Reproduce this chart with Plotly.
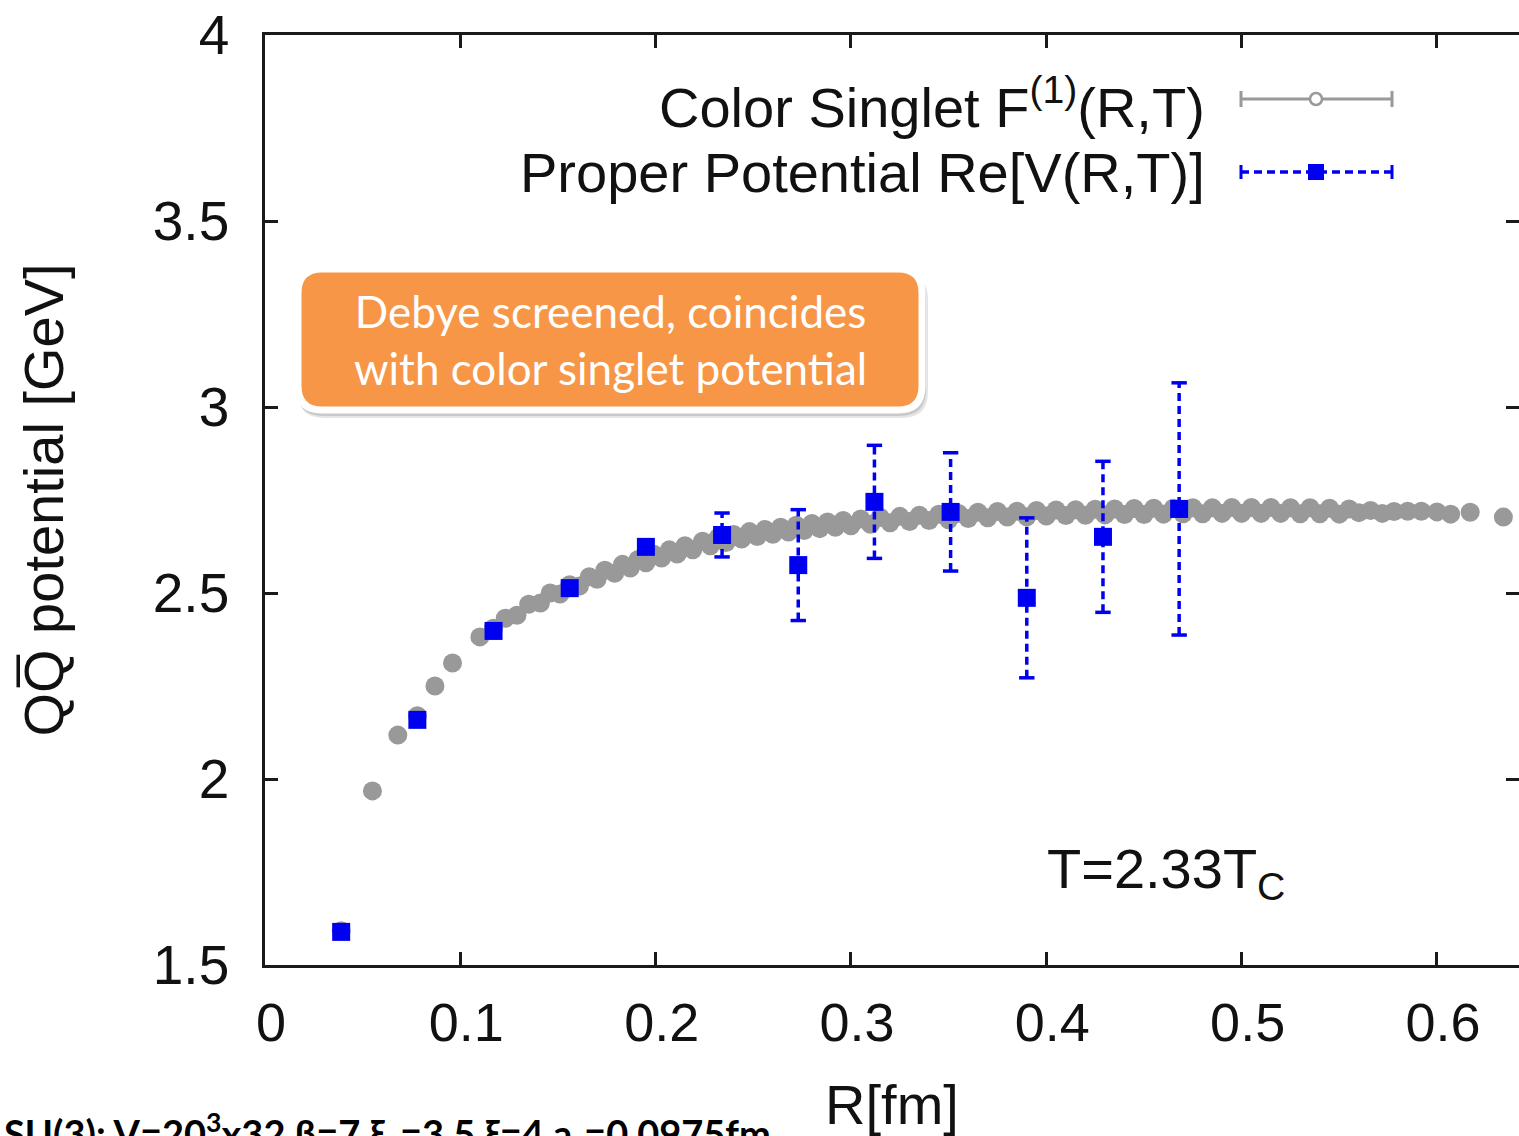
import plotly.graph_objects as go

# ---------------- data ----------------
# Color singlet free energy F^(1)(R,T)  [R in fm, value in GeV]
R_singlet = [0.039, 0.055, 0.068, 0.078, 0.087, 0.096, 0.110, 0.117,
             0.123, 0.129, 0.135, 0.141, 0.146, 0.151, 0.156, 0.161, 0.166, 0.170,
             0.174, 0.179, 0.183, 0.187, 0.191, 0.195, 0.199, 0.203, 0.207, 0.211,
             0.215, 0.219, 0.224, 0.228, 0.232, 0.236, 0.240, 0.244, 0.248, 0.252,
             0.256, 0.260, 0.264, 0.268, 0.272, 0.276, 0.280, 0.284, 0.288, 0.292,
             0.296, 0.300, 0.305, 0.310, 0.315, 0.320, 0.325, 0.330, 0.335, 0.340,
             0.345, 0.350, 0.355, 0.360, 0.365, 0.370, 0.375, 0.380, 0.385, 0.390,
             0.395, 0.400, 0.405, 0.410, 0.415, 0.420, 0.425, 0.430, 0.435, 0.440,
             0.445, 0.450, 0.455, 0.460, 0.465, 0.470, 0.475, 0.480, 0.485, 0.490,
             0.495, 0.500, 0.505, 0.510, 0.515, 0.520, 0.525, 0.530, 0.535, 0.540,
             0.545, 0.550, 0.555, 0.560, 0.566, 0.572, 0.578, 0.585, 0.592, 0.600,
             0.607, 0.617, 0.634]
F_singlet = [1.592, 1.968, 2.118, 2.170, 2.250, 2.312, 2.382, 2.405,
             2.432, 2.440, 2.470, 2.473, 2.500, 2.497, 2.522, 2.519, 2.544, 2.537,
             2.561, 2.553, 2.577, 2.567, 2.590, 2.581, 2.604, 2.594, 2.616, 2.605,
             2.627, 2.616, 2.639, 2.627, 2.649, 2.636, 2.657, 2.645, 2.665, 2.652,
             2.671, 2.658, 2.677, 2.664, 2.682, 2.668, 2.687, 2.673, 2.691, 2.677,
             2.695, 2.681, 2.699, 2.685, 2.703, 2.689, 2.706, 2.692, 2.709, 2.695,
             2.712, 2.697, 2.714, 2.700, 2.717, 2.702, 2.719, 2.704, 2.720, 2.705,
             2.722, 2.707, 2.723, 2.708, 2.724, 2.709, 2.725, 2.710, 2.726, 2.711,
             2.727, 2.711, 2.728, 2.712, 2.728, 2.713, 2.729, 2.713, 2.729, 2.714,
             2.730, 2.714, 2.730, 2.714, 2.730, 2.714, 2.729, 2.713, 2.729, 2.713,
             2.728, 2.712, 2.726, 2.716, 2.722, 2.714, 2.719, 2.720, 2.720, 2.718,
             2.712, 2.717, 2.704]

# Proper potential Re[V(R,T)] with errors
R_proper = [0.039, 0.078, 0.117, 0.156, 0.195, 0.234, 0.273, 0.312, 0.351, 0.390, 0.429, 0.468]
V_proper = [1.589, 2.159, 2.398, 2.513, 2.624, 2.656, 2.575, 2.745, 2.718, 2.487, 2.651, 2.726]
V_err    = [0.005, 0.006, 0.008, 0.010, 0.012, 0.059, 0.149, 0.152, 0.159, 0.215, 0.203, 0.339]

x_tickvals = [0, 0.1, 0.2, 0.3, 0.4, 0.5, 0.6]
x_ticktext = ["0", "0.1", "0.2", "0.3", "0.4", "0.5", "0.6"]
y_tickvals = [1.5, 2.0, 2.5, 3.0, 3.5, 4.0]
y_ticktext = ["1.5", "2", "2.5", "3", "3.5", "4"]

legend_names = ["Color Singlet F<sup>(1)</sup>(R,T)", "Proper Potential Re[V(R,T)]"]
box_text = "Debye screened, coincides<br>with color singlet potential"
temp_text = "T=2.33T<sub>C</sub>"
bottom_text = "SU(3): V=20<sup>3</sup>x32 β=7 ξ<sub>b</sub>=3.5 ξ=4 a<sub>s</sub>=0.0975fm"

# ---------------- styling ----------------
W, H = 1519, 1136
L, R, T, B = 265, 0, 35, 171
PW, PH = W - L - R, H - T - B
SANS = "Liberation Sans, Arial, Helvetica, sans-serif"
CAL = "Lato, Carlito, Calibri, sans-serif"
GRAY = "#999999"
BLUE = "#0000f0"
AX = "#1a1a1a"


def px(x):
    return (x - L) / PW


def py(y):
    return (H - B - y) / PH


fig = go.Figure()

fig.add_trace(go.Scatter(
    x=R_singlet, y=F_singlet, mode="markers", showlegend=False,
    marker=dict(symbol="circle", size=19, color=GRAY, line=dict(width=0)),
))

# dashed error bars built from the data
ex, ey = [], []
for r, v, e in zip(R_proper, V_proper, V_err):
    ex += [r, r, None]
    ey += [v - e, v + e, None]
fig.add_trace(go.Scatter(
    x=ex, y=ey, mode="lines", showlegend=False,
    line=dict(color=BLUE, width=3.5, dash="8px,5px"),
))
cx, cy = [], []
for r, v, e in zip(R_proper, V_proper, V_err):
    cx += [r, r]
    cy += [v - e, v + e]
fig.add_trace(go.Scatter(
    x=cx, y=cy, mode="markers", showlegend=False,
    marker=dict(symbol="line-ew", size=11, line=dict(color=BLUE, width=3.5)),
))
fig.add_trace(go.Scatter(
    x=R_proper, y=V_proper, mode="markers", showlegend=False,
    marker=dict(symbol="square", size=18, color=BLUE, line=dict(width=0)),
))
# dummy trace for the right-hand tick axis
fig.add_trace(go.Scatter(x=[None], y=[None], yaxis="y2", showlegend=False))

xr = [0, PW / 1953.3]

fig.update_layout(
    width=W, height=H,
    margin=dict(l=L, r=R, t=T, b=B, pad=0),
    paper_bgcolor="white", plot_bgcolor="white",
    font=dict(family=SANS, size=54, color="#111"),
    showlegend=False,
    xaxis=dict(
        range=xr, tickvals=x_tickvals, ticktext=x_ticktext,
        showgrid=False, zeroline=False,
        showline=True, linecolor=AX, linewidth=2.5, mirror="ticks",
        ticks="inside", ticklen=13, tickwidth=2.5, tickcolor=AX,
        tickfont=dict(size=54), ticklabelstandoff=8, ticklabelshift=6,
        title=dict(text="R[fm]", font=dict(size=56), standoff=42),
    ),
    yaxis=dict(
        range=[1.5, 4.0], tickvals=y_tickvals, ticktext=y_ticktext,
        showgrid=False, zeroline=False,
        showline=True, linecolor=AX, linewidth=2.5, mirror=False,
        ticks="inside", ticklen=13, tickwidth=2.5, tickcolor=AX,
        tickfont=dict(size=55), ticklabelstandoff=22,
        title=dict(text="QQ\u0305 potential [GeV]", font=dict(size=56), standoff=72),
    ),
    yaxis2=dict(
        range=[1.5, 4.0], tickvals=y_tickvals, overlaying="y", side="right",
        showgrid=False, zeroline=False, showline=False, showticklabels=False,
        ticks="inside", ticklen=13, tickwidth=2.5, tickcolor=AX,
    ),
)

# ---------------- custom legend (text right, sample on the right) ----------------
shapes = []
ly1 = 99
shapes.append(dict(type="line", xref="paper", yref="paper", x0=px(1241), x1=px(1392), y0=py(ly1), y1=py(ly1),
                   line=dict(color=GRAY, width=3)))
for xx in (1241, 1392):
    shapes.append(dict(type="line", xref="paper", yref="paper", x0=px(xx), x1=px(xx), y0=py(ly1 - 8), y1=py(ly1 + 8),
                       line=dict(color=GRAY, width=3)))
shapes.append(dict(type="circle", xref="paper", yref="paper", x0=px(1310), x1=px(1322), y0=py(ly1 - 6), y1=py(ly1 + 6),
                   line=dict(color=GRAY, width=2.5), fillcolor="white"))
ly2 = 172
shapes.append(dict(type="line", xref="paper", yref="paper", x0=px(1241), x1=px(1392), y0=py(ly2), y1=py(ly2),
                   line=dict(color=BLUE, width=3.5, dash="8px,5px")))
for xx in (1241, 1392):
    shapes.append(dict(type="line", xref="paper", yref="paper", x0=px(xx), x1=px(xx), y0=py(ly2 - 7), y1=py(ly2 + 7),
                       line=dict(color=BLUE, width=3)))
shapes.append(dict(type="rect", xref="paper", yref="paper", x0=px(1308), x1=px(1324), y0=py(ly2 - 8), y1=py(ly2 + 8),
                   line=dict(width=0), fillcolor=BLUE))


# ---------------- rounded orange call-out ----------------
def rounded(x0, y0, x1, y1, r):
    pts = [
        ("M", [(x0 + r, y0)]),
        ("L", [(x1 - r, y0)]),
        ("Q", [(x1, y0), (x1, y0 + r)]),
        ("L", [(x1, y1 - r)]),
        ("Q", [(x1, y1), (x1 - r, y1)]),
        ("L", [(x0 + r, y1)]),
        ("Q", [(x0, y1), (x0, y1 - r)]),
        ("L", [(x0, y0 + r)]),
        ("Q", [(x0, y0), (x0 + r, y0)]),
    ]
    s = ""
    for cmd, ps in pts:
        s += cmd + " ".join(f"{px(a):.5f},{py(b):.5f}" for a, b in ps) + " "
    return s + "Z"


shapes.append(dict(type="path", xref="paper", yref="paper", path=rounded(298, 273, 928, 418, 26),
                   fillcolor="rgba(0,0,0,0.10)", line=dict(width=0), layer="above"))
shapes.append(dict(type="path", xref="paper", yref="paper", path=rounded(297, 271, 926, 416, 26),
                   fillcolor="rgba(0,0,0,0.12)", line=dict(width=0), layer="above"))
shapes.append(dict(type="path", xref="paper", yref="paper", path=rounded(298, 269, 922, 410, 24),
                   fillcolor="#F79646", line=dict(color="white", width=7), layer="above"))

fig.update_layout(shapes=shapes)

annotations = [
    dict(text=legend_names[0], xref="paper", yref="paper", x=px(1207), y=py(103),
         xanchor="right", yanchor="middle", showarrow=False, font=dict(family=SANS, size=56, color="#111")),
    dict(text=legend_names[1], xref="paper", yref="paper", x=px(1207), y=py(172),
         xanchor="right", yanchor="middle", showarrow=False, font=dict(family=SANS, size=56, color="#111")),
    dict(text=box_text, xref="paper", yref="paper", x=px(610), y=py(339),
         xanchor="center", yanchor="middle", showarrow=False, align="center",
         font=dict(family=CAL, size=44, color="white")),
    dict(text=temp_text, xref="paper", yref="paper", x=px(1045), y=py(872),
         xanchor="left", yanchor="middle", showarrow=False, font=dict(family=SANS, size=56, color="#111")),
    dict(text=bottom_text, xref="paper", yref="paper", x=px(2), y=py(1104),
         xanchor="left", yanchor="top", showarrow=False,
         font=dict(family=CAL, size=38, color="black", weight="bold")),
]
fig.update_layout(annotations=annotations)

fig.write_html("out.html", post_script="document.body.style.margin='0';",
               config={"displayModeBar": False})
